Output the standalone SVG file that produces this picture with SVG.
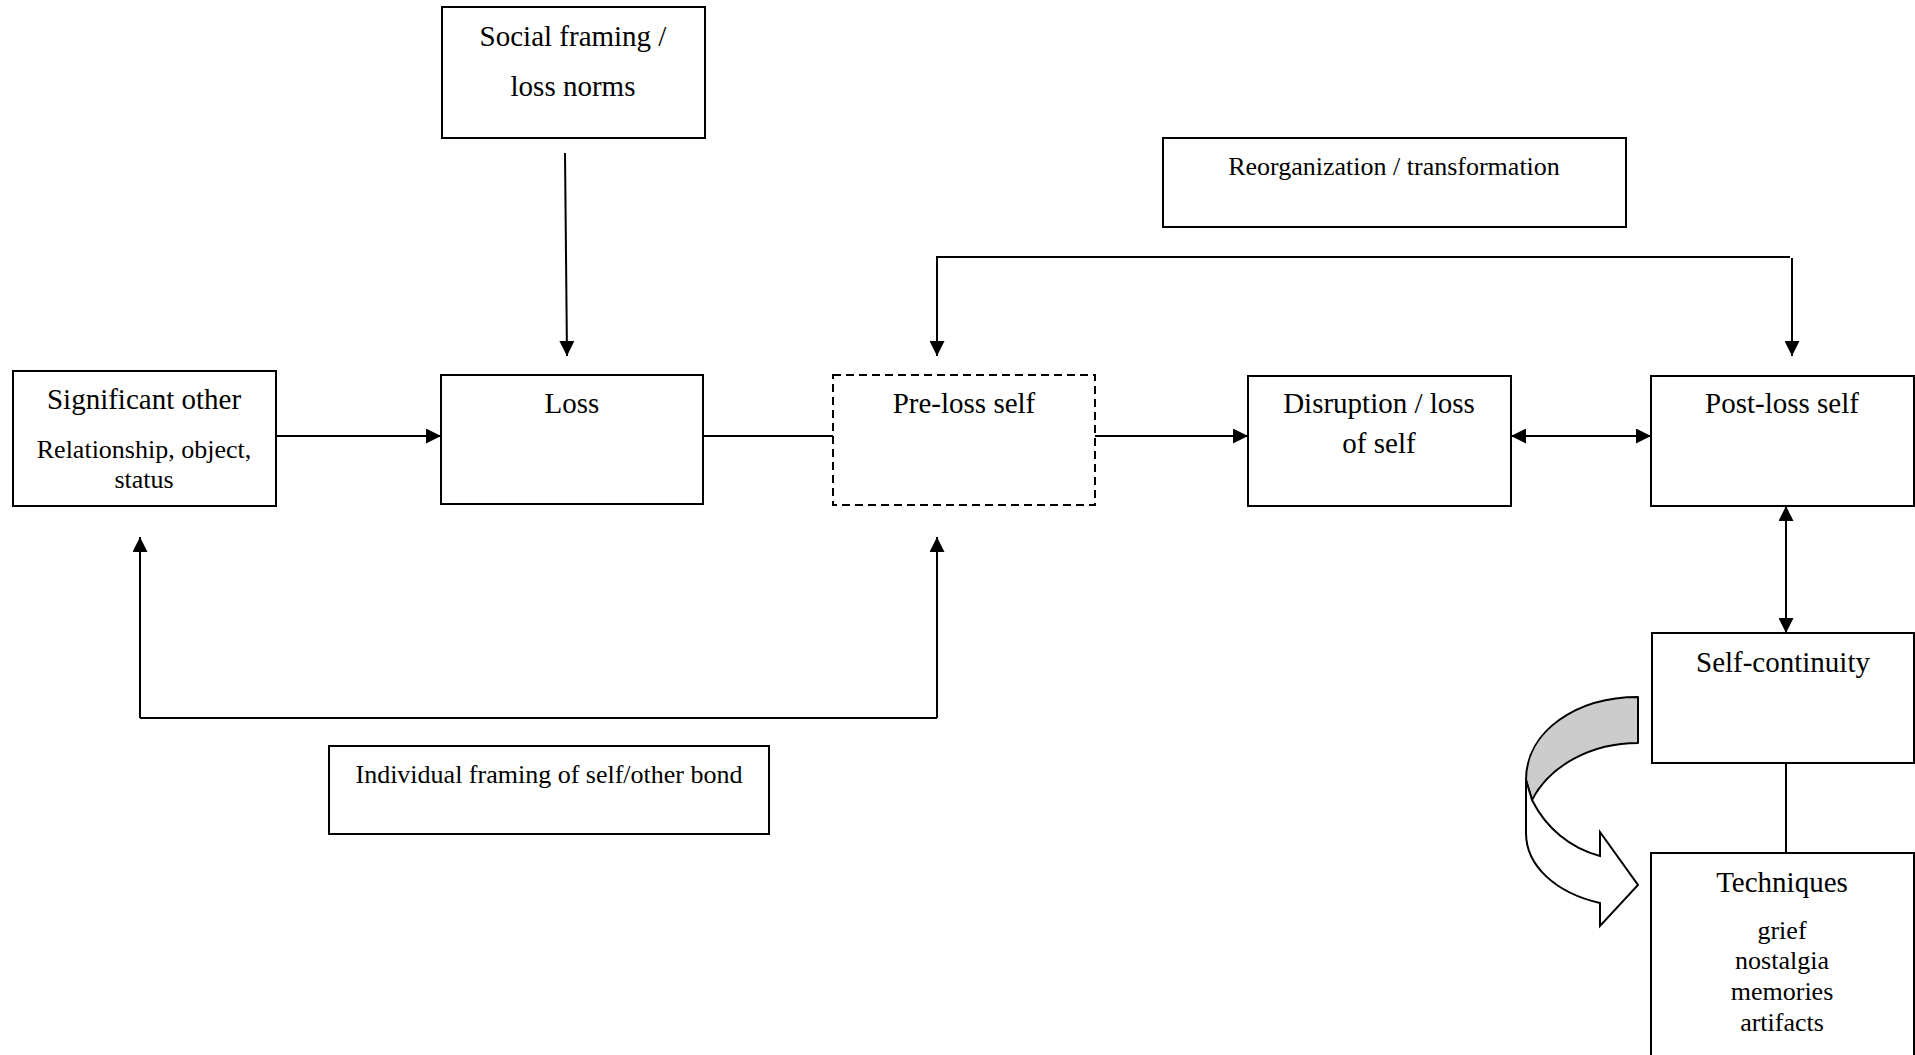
<svg xmlns="http://www.w3.org/2000/svg" width="1915" height="1055" viewBox="0 0 1915 1055">
<defs>
<style>
.box{fill:#fff;stroke:#000;stroke-width:2}
.dash{fill:#fff;stroke:#000;stroke-width:2;stroke-dasharray:8 5}
.ln{fill:none;stroke:#000;stroke-width:2}
.t{font-family:"Liberation Serif","Times New Roman",serif;font-size:29px;text-anchor:middle;fill:#000}
.s{font-family:"Liberation Serif","Times New Roman",serif;font-size:26px;text-anchor:middle;fill:#000}
</style>
<marker id="arr" viewBox="0 0 15 15" refX="15" refY="7.5" markerWidth="15" markerHeight="15" markerUnits="userSpaceOnUse" orient="auto-start-reverse">
<path d="M0,0 L15,7.5 L0,15 Z" fill="#000"/>
</marker>
</defs>
<rect width="1915" height="1055" fill="#fff"/>
<g id="connectors">
<path class="ln" d="M276,436 H441" marker-end="url(#arr)"/>
<path class="ln" d="M565,153 L567,356" marker-end="url(#arr)"/>
<path class="ln" d="M703,436 H833"/>
<path class="ln" d="M1095,436 H1248" marker-end="url(#arr)"/>
<path class="ln" d="M1511,436 H1651" marker-start="url(#arr)" marker-end="url(#arr)"/>
<path class="ln" d="M1790,257 H937 V356" marker-end="url(#arr)"/>
<path class="ln" d="M1792,258 V356" marker-end="url(#arr)"/>
<path class="ln" d="M140,718 V537" marker-end="url(#arr)"/>
<path class="ln" d="M140,718 H937"/>
<path class="ln" d="M937,718 V537" marker-end="url(#arr)"/>
<path class="ln" d="M1786,506 V633" marker-start="url(#arr)" marker-end="url(#arr)"/>
<path class="ln" d="M1786,763 V852"/>
</g>
<g id="curved-arrow">
<path d="M1638,697 C1578,697 1526,730 1526,780 L1532,800 C1550,765 1592,743 1638,743 Z" fill="#ccc" stroke="#000" stroke-width="2" stroke-linejoin="round"/>
<path d="M1532,800 C1546,828 1570,848 1600,856 L1600,832 L1638,885 L1600,926 L1600,903 C1556,893 1526,866 1526,833 L1526,780 Z" fill="#fff" stroke="#000" stroke-width="2" stroke-linejoin="miter"/>
</g>
<g id="social-framing">
<rect class="box" x="442" y="7" width="263" height="131"/>
<text class="t" x="573" y="46">Social framing /</text>
<text class="t" x="573" y="96">loss norms</text>
</g>
<g id="reorganization">
<rect class="box" x="1163" y="138" width="463" height="89"/>
<text class="s" x="1394" y="175">Reorganization / transformation</text>
</g>
<g id="significant-other">
<rect class="box" x="13" y="371" width="263" height="135"/>
<text class="t" x="144" y="409">Significant other</text>
<text class="s" x="144" y="458">Relationship, object,</text>
<text class="s" x="144" y="488">status</text>
</g>
<g id="loss">
<rect class="box" x="441" y="375" width="262" height="129"/>
<text class="t" x="572" y="413">Loss</text>
</g>
<g id="pre-loss-self">
<rect class="dash" x="833" y="375" width="262" height="130"/>
<text class="t" x="964" y="413">Pre-loss self</text>
</g>
<g id="disruption">
<rect class="box" x="1248" y="376" width="263" height="130"/>
<text class="t" x="1379" y="413">Disruption / loss</text>
<text class="t" x="1379" y="453">of self</text>
</g>
<g id="post-loss-self">
<rect class="box" x="1651" y="376" width="263" height="130"/>
<text class="t" x="1782" y="413">Post-loss self</text>
</g>
<g id="self-continuity">
<rect class="box" x="1652" y="633" width="262" height="130"/>
<text class="t" x="1783" y="672">Self-continuity</text>
</g>
<g id="techniques">
<rect class="box" x="1651" y="853" width="263" height="220"/>
<text class="t" x="1782" y="892">Techniques</text>
<text class="s" x="1782" y="939">grief</text>
<text class="s" x="1782" y="969">nostalgia</text>
<text class="s" x="1782" y="1000">memories</text>
<text class="s" x="1782" y="1031">artifacts</text>
</g>
<g id="individual-framing">
<rect class="box" x="329" y="746" width="440" height="88"/>
<text class="s" x="549" y="783">Individual framing of self/other bond</text>
</g>
</svg>
